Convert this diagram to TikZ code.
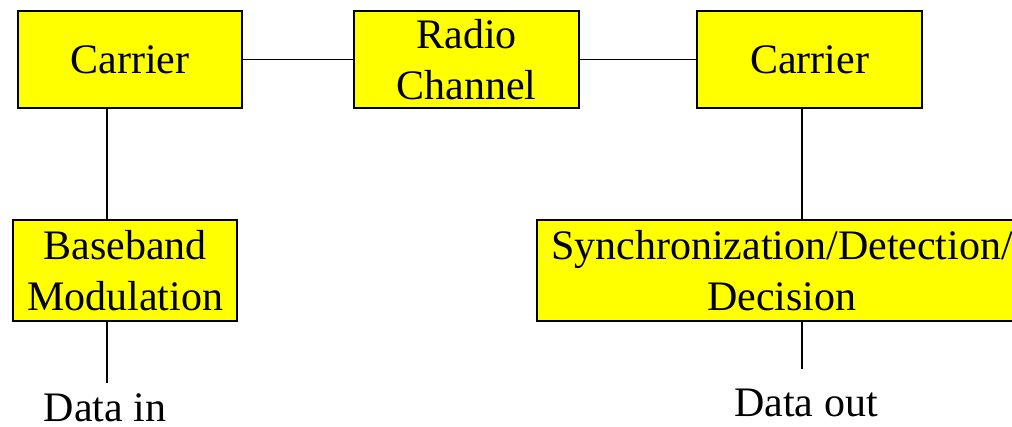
\documentclass[tikz,border=0pt]{standalone}
\usepackage{fontspec}
\setmainfont{Liberation Serif}
\definecolor{boxyellow}{RGB}{255,255,0}

\begin{document}
\begin{tikzpicture}[x = 1pt, y = -1pt, line width = 1.8pt,
    blok/.style = {shape = rectangle, draw, fill = boxyellow, align = center, inner sep = 0pt,
        font = \fontsize{42}{51}\selectfont},
    lbl/.style = {anchor = base, inner sep = 0pt, font = \fontsize{42}{51}\selectfont}]
    \useasboundingbox (0,0) rectangle (1012,427);
    \node[blok, minimum width = 224pt, minimum height = 97pt] (carL) at (130,59.5) {Carrier};
    \node[blok, minimum width = 225pt, minimum height = 97pt] (radio) at (466.5,59.5) {Radio\\Channel};
    \node[blok, minimum width = 225pt, minimum height = 97pt] (carR) at (809.5,59.5) {Carrier};
    \node[blok, minimum width = 224pt, minimum height = 101pt] (base) at (125,270.5) {Baseband\\Modulation};
    \node[blok, minimum width = 490pt, minimum height = 101pt] (sync) at (782,270.5) {Synchronization/Detection/\\Decision};
    \coordinate (inEnd) at (107,383);
    \coordinate (outEnd) at (802,369);
    \node[lbl] (dIn) at (105,421) {Data in};
    \node[lbl] (dOut) at (806,417) {Data out};
    \draw (carL) -- (radio);
    \draw (radio) -- (carR);
    \draw (carL.south -| inEnd) -- (base.north -| inEnd);
    \draw (base.south -| inEnd) -- (inEnd);
    \draw (carR.south -| outEnd) -- (sync.north -| outEnd);
    \draw (sync.south -| outEnd) -- (outEnd);
\end{tikzpicture}
\end{document}
